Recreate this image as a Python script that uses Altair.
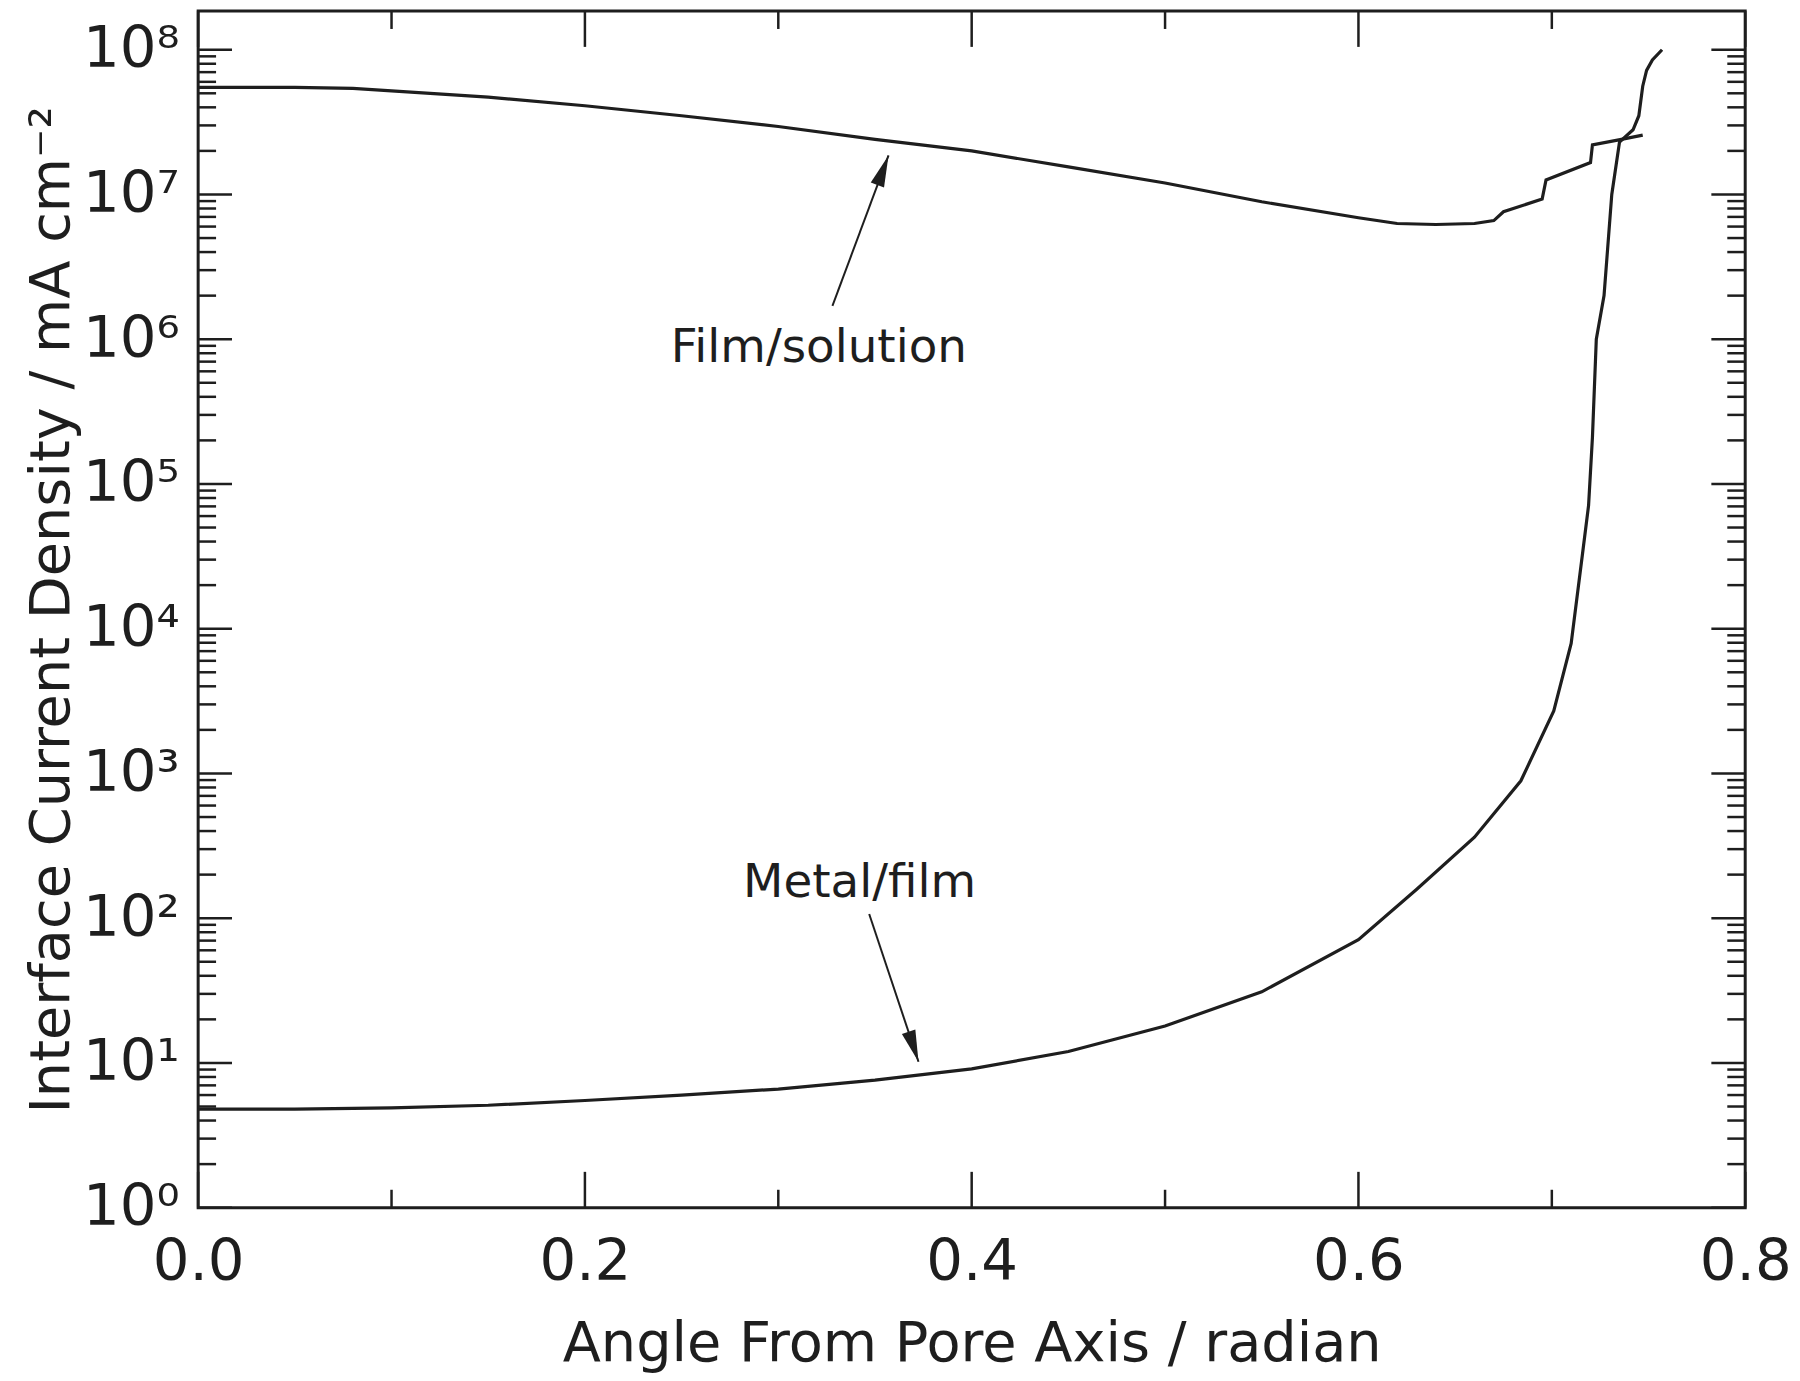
import altair as alt
import pandas as pd

# ---- data ----
film_x = [0.0, 0.05, 0.08, 0.10, 0.15, 0.20, 0.25, 0.30, 0.35, 0.40, 0.45, 0.50,
          0.55, 0.60, 0.62, 0.64, 0.66, 0.670, 0.675, 0.695, 0.697, 0.720, 0.721,
          0.736, 0.747]
film_j = [5.5e7, 5.5e7, 5.4e7, 5.2e7, 4.7e7, 4.1e7, 3.5e7, 2.95e7, 2.4e7, 2.0e7,
          1.55e7, 1.2e7, 8.9e6, 6.9e6, 6.3e6, 6.2e6, 6.3e6, 6.6e6, 7.6e6, 9.3e6,
          1.26e7, 1.66e7, 2.2e7, 2.4e7, 2.57e7]

metal_x = [0.0, 0.05, 0.10, 0.15, 0.20, 0.25, 0.30, 0.35, 0.40, 0.45, 0.50, 0.55,
           0.60, 0.63, 0.66, 0.684, 0.701, 0.710, 0.716, 0.719, 0.721, 0.723,
           0.727, 0.731, 0.735, 0.742, 0.745, 0.747, 0.749, 0.752, 0.757]
metal_j = [4.8, 4.8, 4.9, 5.1, 5.5, 6.0, 6.6, 7.6, 9.1, 12, 18, 31,
           71, 158, 363, 890, 2700, 7900, 3.4e4, 7.1e4, 2.1e5, 1.0e6,
           2.0e6, 1.0e7, 2.3e7, 2.8e7, 3.5e7, 5.6e7, 7.2e7, 8.5e7, 1.0e8]

y_major = [1, 10, 100, 1e3, 1e4, 1e5, 1e6, 1e7, 1e8]
y_minor_mult = [2, 3, 4, 5, 6, 7, 8, 9]
y_minor_decades = [1, 10, 100, 1e3, 1e4, 1e5, 1e6, 1e7]
x_major = [0.0, 0.2, 0.4, 0.6, 0.8]
x_minor = [0.1, 0.3, 0.5, 0.7]

label_text = ["Film/solution", "Metal/film"]
label_x = [0.321, 0.342]
label_y = [8.7e5, 174]

film_arrow_x = [0.328, 0.357]
film_arrow_y = [1.7e6, 1.86e7]
metal_arrow_x = [0.347, 0.3725]
metal_arrow_y = [107, 10.2]

# ---- tables ----
curves = pd.concat([
    pd.DataFrame({"angle": film_x, "j": film_j, "series": "Film/solution",
                  "i": range(len(film_x))}),
    pd.DataFrame({"angle": metal_x, "j": metal_j, "series": "Metal/film",
                  "i": range(len(metal_x))}),
])
ymaj = pd.DataFrame({"v": y_major})
ymin = pd.DataFrame({"v": [m * d for d in y_minor_decades for m in y_minor_mult]})
xmaj = pd.DataFrame({"v": x_major})
xmin = pd.DataFrame({"v": x_minor})
labels = pd.DataFrame({"t": label_text, "x": label_x, "y": label_y})
arrows = pd.concat([
    pd.DataFrame({"x": film_arrow_x, "y": film_arrow_y, "a": "film", "i": [0, 1]}),
    pd.DataFrame({"x": metal_arrow_x, "y": metal_arrow_y, "a": "metal", "i": [0, 1]}),
])
film_tip = pd.DataFrame({"x": film_arrow_x[1:], "y": film_arrow_y[1:]})
metal_tip = pd.DataFrame({"x": metal_arrow_x[1:], "y": metal_arrow_y[1:]})

W, H = 1554, 1202
FONT = "DejaVu Sans"
INK = "#1e1e1e"

xs = alt.Scale(domain=[0, 0.8], nice=False, zero=False)
ys = alt.Scale(type="log", domain=[1, 1.85e8], nice=False)

sup = "['\u2070','\u00b9','\u00b2','\u00b3','\u2074','\u2075','\u2076','\u2077','\u2078']"

XA = alt.Axis(values=x_major, format=".1f", ticks=False, tickSize=0,
              domain=False, grid=False, labelFlush=False,
              labelPadding=26, title="Angle From Pore Axis / radian",
              titleY=136, titleBaseline="middle")
YA = alt.Axis(values=y_major, ticks=False, tickSize=0, domain=False,
              grid=False, labelPadding=19,
              labelExpr="'10' + " + sup + "[round(log(datum.value)/LN10)]",
              title="Interface Current Density / mA cm\u207b\u00b2",
              titleX=-147, titleY=H / 2, titleAngle=270,
              titleAlign="center", titleBaseline="middle")


def X(f):
    return alt.X(f, type="quantitative", scale=xs, axis=XA)


def Y(f):
    return alt.Y(f, type="quantitative", scale=ys, axis=YA)


lines = alt.Chart(curves).mark_line(color=INK, strokeWidth=3.2, clip=True).encode(
    x=X("angle"), y=Y("j"), detail="series:N", order="i:Q")


def yticks(df, x0, x1):
    return alt.Chart(df).mark_rule(color=INK, strokeWidth=2.5).encode(
        y=Y("v"), x=alt.value(x0), x2=alt.value(x1))


def xticks(df, y0, y1):
    return alt.Chart(df).mark_rule(color=INK, strokeWidth=2.5).encode(
        x=X("v"), y=alt.value(y0), y2=alt.value(y1))


ticks = [
    yticks(ymaj, 0, 34), yticks(ymin, 0, 18),
    yticks(ymaj, W - 34, W), yticks(ymin, W - 18, W),
    xticks(xmaj, H, H - 36), xticks(xmin, H, H - 18),
    xticks(xmaj, 0, 36), xticks(xmin, 0, 18),
]

arrow_lines = alt.Chart(arrows).mark_line(color=INK, strokeWidth=2).encode(
    x=X("x"), y=Y("y"), detail="a:N", order="i:Q")

head_shape = "M0,0L0.45,2L-0.45,2Z"
film_head = alt.Chart(film_tip).mark_point(
    shape=head_shape, filled=True, color=INK, opacity=1, size=1000, angle=20.7
).encode(x=X("x"), y=Y("y"))
metal_head = alt.Chart(metal_tip).mark_point(
    shape=head_shape, filled=True, color=INK, opacity=1, size=1000, angle=161.7
).encode(x=X("x"), y=Y("y"))

texts = alt.Chart(labels).mark_text(font=FONT, fontSize=47, color=INK,
                                    align="center", baseline="middle").encode(
    x=X("x"), y=Y("y"), text="t:N")

chart = alt.layer(lines, *ticks, arrow_lines, film_head, metal_head, texts).properties(
    width=W, height=H,
    background="white",
    autosize=alt.AutoSizeParams(type="none"),
    padding={"left": 191, "top": 0, "right": 47, "bottom": 165},
).configure_view(
    stroke=INK, strokeWidth=3
).configure_axis(
    labelFont=FONT, labelFontSize=58, labelColor=INK,
    titleFont=FONT, titleFontSize=56, titleFontWeight="normal", titleColor=INK,
)

chart.save("out.html", embed_options={"renderer": "svg", "actions": False})
